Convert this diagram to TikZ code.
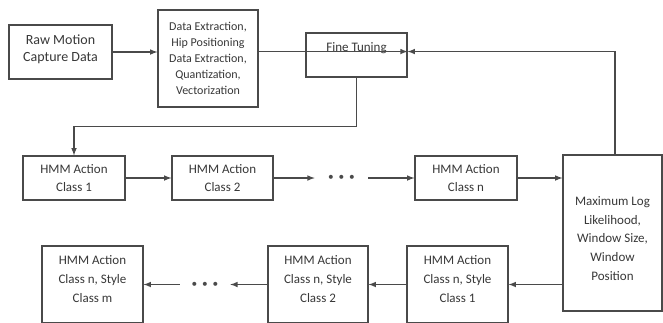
\documentclass[tikz,border=0pt]{standalone}
\usepackage{fontspec}
\setmainfont{Carlito}
\usetikzlibrary{arrows,positioning}
\definecolor{linegray}{HTML}{4A4A4A}
\definecolor{textgray}{HTML}{383838}
\newcommand{\dotrow}{\textbullet\hspace{3.6pt}\textbullet\hspace{3.6pt}\textbullet}

\begin{document}
\begin{tikzpicture}[x=0.75pt,y=-0.75pt,>=latex]
\tikzstyle{block}=[rectangle, draw=linegray, line width=0.9pt, inner sep=0pt,
	text=textgray, align=center, font=\fontsize{9.75}{13.9}\selectfont,
	minimum width=76.5pt, minimum height=33pt,
]
\tikzstyle{tallblock}=[block, minimum height=0pt, text height=42pt, text depth=15.75pt]
\tikzstyle{flow}=[->, draw=linegray, line width=0.9pt]
\tikzstyle{gap}=[inner sep=0pt, text=linegray, font=\fontsize{8.5}{8.5}\selectfont]
\useasboundingbox (0,0) rectangle (663,322);
\clip (0,0) rectangle (663,322);
\fill[white] (0,0) rectangle (663,322);
% top row
\node[block, minimum width=77.25pt, minimum height=0pt,
	text height=27.4pt, text depth=13.1pt,
	font=\fontsize{10.5}{12.75}\selectfont] (raw) at (60.5,52) {Raw Motion\\Capture Data};
\node[block, minimum width=75pt, minimum height=72.75pt,
	font=\fontsize{9}{12}\selectfont] (prep) at (208,58.5)
	{Data Extraction,\\Hip Positioning\\Data Extraction,\\Quantization,\\Vectorization};
\node[block, minimum width=75.75pt, minimum height=0pt,
	text height=13.9pt, text depth=19.1pt] (fine) at (356.5,55) {Fine Tuning};
% action classes
\node[block] (act1) at (74,178) {HMM Action\\Class 1};
\node[block, minimum width=75.75pt] (act2) at (222.5,178) {HMM Action\\Class 2};
\node[gap, minimum width=39.75pt] (more) at (341.5,178) {\dotrow};
\node[block] (actn) at (466,178) {HMM Action\\Class n};
\node[block, minimum width=74.25pt, minimum height=0pt,
	text height=93.75pt, text depth=23.25pt] (mll) at (612.5,233)
	{Maximum Log\\Likelihood,\\Window Size,\\Window\\Position};
% style classes
\node[tallblock, minimum width=75.75pt] (sty1) at (457.5,284.5) {HMM Action\\Class n, Style\\Class 1};
\node[tallblock, minimum width=75pt] (sty2) at (318,284.5) {HMM Action\\Class n, Style\\Class 2};
\node[gap, minimum width=37.5pt] (fewer) at (205,284.5) {\dotrow};
\node[tallblock, minimum width=75.75pt] (stym) at (92.5,284.5) {HMM Action\\Class n, Style\\Class m};

\path (raw.east) edge[flow] (raw.east -| prep.west);
\path (prep.east |- fine.base east) edge[flow] (fine.base east);
\draw[flow] (fine.south) -- ++(0,49) -| (act1.north);
\path (act1.east) edge[flow] (act2.west);
\path (act2.east) edge[flow] (more.west);
\path (more.east) edge[flow] (actn.west);
\path (actn.east) edge[flow] (actn.east -| mll.west);
\draw[flow] ([xshift=1.9pt]mll.north) |- (fine.base east);
\path (sty1.east -| mll.west) edge[flow] (sty1.east);
\path (sty1.west) edge[flow] (sty2.east);
\path (sty2.west) edge[flow] (fewer.east);
\path (fewer.west) edge[flow] (stym.east);

\end{tikzpicture}
\end{document}
